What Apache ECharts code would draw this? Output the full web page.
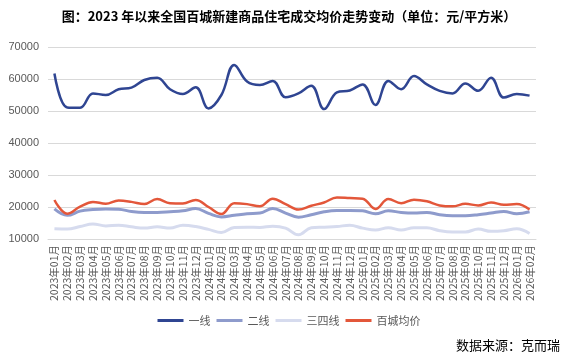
<!DOCTYPE html>
<html><head><meta charset="utf-8">
<script src="https://cdn.jsdelivr.net/npm/echarts@6/dist/echarts.min.js"></script>
<style>html,body{margin:0;padding:0;background:#fff}#c{width:578px;height:356px}</style>
</head><body><div id="c"></div>
<script>
const months = ['2023年01月','2023年02月','2023年03月','2023年04月','2023年05月','2023年06月','2023年07月','2023年08月','2023年09月','2023年10月','2023年11月','2023年12月',
'2024年01月','2024年02月','2024年03月','2024年04月','2024年05月','2024年06月','2024年07月','2024年08月','2024年09月','2024年10月','2024年11月','2024年12月',
'2025年01月','2025年02月','2025年03月','2025年04月','2025年05月','2025年06月','2025年07月','2025年08月','2025年09月','2025年10月','2025年11月','2025年12月',
'2026年01月','2026年02月'];
const tier1 = [61700,51100,51000,55500,55000,56800,57300,59700,60400,56800,55300,57400,
50800,55000,64400,59200,58100,59400,54300,55500,57900,50600,55800,56400,
58300,51900,59400,56800,60900,58300,56300,55500,58600,56300,60400,54200,55300,54800];
const tier2 = [19400,17400,18700,19200,19400,19300,18600,18300,18300,18500,18800,19500,
18000,16900,17400,17900,18100,19500,18100,16800,17600,18500,18900,18900,
18800,17900,18800,18300,18100,18300,17600,17300,17300,17600,18100,18600,17900,18500];
const tier34 = [13200,13100,13900,14700,14100,14300,13800,13400,13800,13400,14300,13900,
13000,12000,13600,13700,13600,14000,13400,11300,13500,13700,13900,14300,
13400,12800,13500,12800,13500,13500,12600,12200,12200,13100,12400,12600,13200,11700];
const avg100 = [22200,17900,20100,21600,21000,22000,21600,20900,22500,21200,21100,22200,
20000,17800,21200,20900,20200,22600,20900,19200,20400,21400,23000,22800,
22600,19400,22500,21200,22300,21800,20500,20200,21000,20500,21400,20700,20900,19200];
const yTicks = {min:10000, max:70000, interval:10000};

const chart = echarts.init(document.getElementById('c'), null, {renderer:'canvas'});
function line(name, data, color, width){
  return {name, type:'line', data, smooth:0.4, showSymbol:false, symbol:'none',
    lineStyle:{color, width}, itemStyle:{color}};
}
chart.setOption({
  animation:false,
  title:{text:'图：2023 年以来全国百城新建商品住宅成交均价走势变动（单位：元/平方米）', left:'center', top:5,
    textStyle:{fontSize:13, fontWeight:'bold', color:'#000', fontFamily:'"Noto Sans CJK SC", sans-serif'}},
  grid:{left:48, right:42, top:47, bottom:117},
  legend:{bottom:25, left:'center', itemWidth:26, itemHeight:3, itemGap:6, icon:'rect',
    textStyle:{fontSize:11, color:'#595959', fontFamily:'"Noto Sans CJK SC", sans-serif'},
    data:['一线','二线','三四线','百城均价']},
  xAxis:{type:'category', data:months, boundaryGap:true,
    axisLine:{show:true, lineStyle:{color:'#d9d9d9'}}, axisTick:{show:false},
    axisLabel:{rotate:90, interval:0, fontSize:10.5, color:'#595959', margin:6,
      fontFamily:'"Noto Sans CJK SC", sans-serif'}},
  yAxis:{type:'value', min:yTicks.min, max:yTicks.max, interval:yTicks.interval,
    axisLine:{show:false}, axisTick:{show:false},
    axisLabel:{fontSize:11, color:'#595959', margin:9, formatter:v=>String(v),
      fontFamily:'"Liberation Sans", Arial, sans-serif'},
    splitLine:{lineStyle:{color:'#d9d9d9', width:1}}},
  series:[
    line('一线', tier1, '#2f4592', 2.5),
    line('二线', tier2, '#8e9bcc', 3),
    line('三四线', tier34, '#d6dbee', 3),
    line('百城均价', avg100, '#e3573a', 2.5)
  ],
  graphic:[{type:'text', right:18, bottom:4, style:{text:'数据来源：克而瑞', fontSize:13, fill:'#000',
    fontFamily:'"Noto Sans CJK SC", sans-serif'}}]
});
</script></body></html>
